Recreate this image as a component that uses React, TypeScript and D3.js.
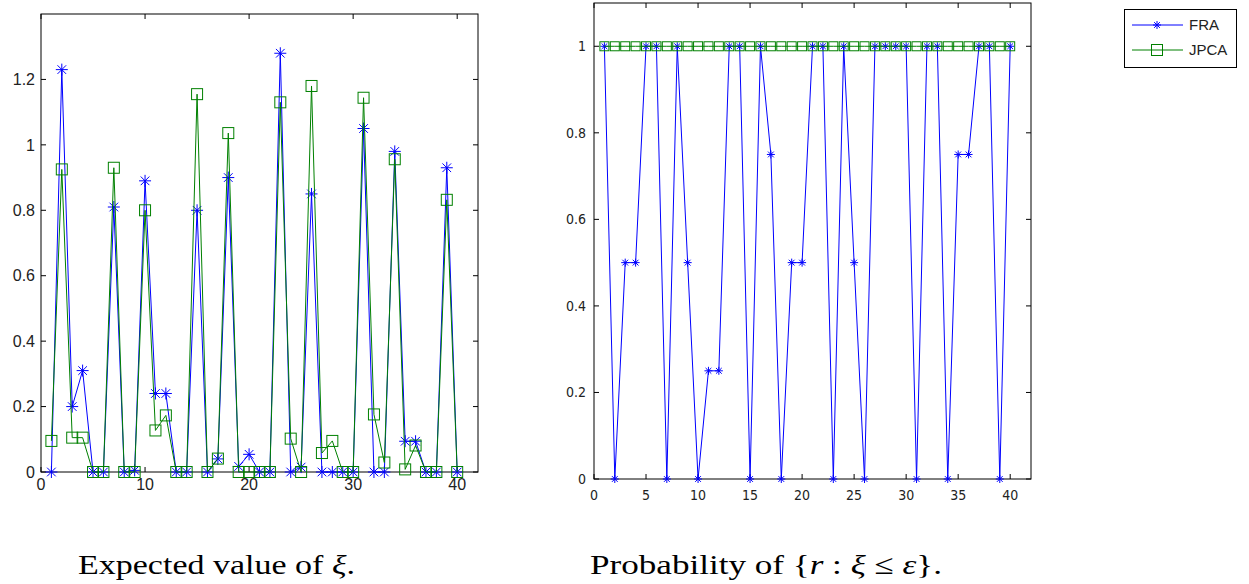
import * as d3 from 'd3';

// run index 1..40
const runs = d3.range(1, 41);

// Expected value of xi (left panel)
const expFRA = [
  0, 1.23, 0.2, 0.31, 0, 0, 0.81, 0, 0.005, 0.89,
  0.24, 0.24, 0, 0, 0.8, 0, 0.04, 0.9, 0.017, 0.054,
  0, 0, 1.28, 0, 0.015, 0.85, 0, 0, 0, 0,
  1.05, 0, 0, 0.98, 0.094, 0.094, 0, 0, 0.93, 0,
];
const expJPCA = [
  0.095, 0.925, 0.105, 0.105, 0, 0, 0.93, 0, 0, 0.8,
  0.127, 0.173, 0, 0, 1.155, 0, 0.041, 1.036, 0, 0,
  0, 0, 1.13, 0.102, 0, 1.18, 0.058, 0.095, 0, 0,
  1.144, 0.176, 0.029, 0.956, 0.008, 0.081, 0, 0, 0.832, 0,
];

// Probability of {r : xi <= eps} (right panel)
const probFRA = [
  1, 0, 0.5, 0.5, 1, 1, 0, 1, 0.5, 0,
  0.25, 0.25, 1, 1, 0, 1, 0.75, 0, 0.5, 0.5,
  1, 1, 0, 1, 0.5, 0, 1, 1, 1, 1,
  0, 1, 1, 0, 0.75, 0.75, 1, 1, 0, 1,
];
const probJPCA = [
  1, 1, 1, 1, 1, 1, 1, 1, 1, 1,
  1, 1, 1, 1, 1, 1, 1, 1, 1, 1,
  1, 1, 1, 1, 1, 1, 1, 1, 1, 1,
  1, 1, 1, 1, 1, 1, 1, 1, 1, 1,
];

const leftYTicks = [0, 0.2, 0.4, 0.6, 0.8, 1, 1.2];
const leftYLabels = ['0', '0.2', '0.4', '0.6', '0.8', '1', '1.2'];
const leftXTicks = [0, 10, 20, 30, 40];
const rightYTicks = [0, 0.2, 0.4, 0.6, 0.8, 1];
const rightYLabels = ['0', '0.2', '0.4', '0.6', '0.8', '1'];
const rightXTicks = [0, 5, 10, 15, 20, 25, 30, 35, 40];
const seriesNames = ['FRA', 'JPCA'];

const BLUE = '#0000ff';
const GREEN = '#008000';

const starPath = (r: number) => {
  const d = r * 0.72;
  return `M${-r},0H${r}M0,${-r}V${r}M${-d},${-d}L${d},${d}M${-d},${d}L${d},${-d}`;
};

type PanelProps = {
  box: { left: number; top: number; right: number; bottom: number };
  xMax: number;
  yMax: number;
  fra: number[];
  jpca: number[];
  xTicks: number[];
  yTicks: number[];
  yLabels: string[];
  starR: number;
  sq: number;
  font: string;
  fontSize: number;
  xLabelY: number;
  yLabelGap: number;
};

function Panel(p: PanelProps) {
  const x = d3.scaleLinear().domain([0, p.xMax]).range([p.box.left, p.box.right]);
  const y = d3.scaleLinear().domain([0, p.yMax]).range([p.box.bottom, p.box.top]);
  const line = d3.line<number>().x((_, i) => x(runs[i])).y((v) => y(v));
  const tl = 5;
  return (
    <g>
      <rect x={p.box.left} y={p.box.top} width={p.box.right - p.box.left}
        height={p.box.bottom - p.box.top} fill="#fff" stroke="#000" strokeWidth={1} />
      {/* ticks */}
      {p.xTicks.map((t) => (
        <g key={'xt' + t}>
          <line x1={x(t)} x2={x(t)} y1={p.box.bottom} y2={p.box.bottom - tl} stroke="#000" />
          <line x1={x(t)} x2={x(t)} y1={p.box.top} y2={p.box.top + tl} stroke="#000" />
          <text x={x(t)} y={p.xLabelY} textAnchor="middle" fontFamily={p.font}
            fontSize={p.fontSize} fill="#222">{t}</text>
        </g>
      ))}
      {p.yTicks.map((t, i) => (
        <g key={'yt' + t}>
          <line x1={p.box.left} x2={p.box.left + tl} y1={y(t)} y2={y(t)} stroke="#000" />
          <line x1={p.box.right} x2={p.box.right - tl} y1={y(t)} y2={y(t)} stroke="#000" />
          <text x={p.box.left - p.yLabelGap} y={y(t)} dy="0.36em" textAnchor="end"
            fontFamily={p.font} fontSize={p.fontSize} fill="#222">{p.yLabels[i]}</text>
        </g>
      ))}
      {/* FRA */}
      <path d={line(p.fra) || ''} fill="none" stroke={BLUE} strokeWidth={1} />
      {p.fra.map((v, i) => (
        <path key={'s' + i} d={starPath(p.starR)} transform={`translate(${x(runs[i])},${y(v)})`}
          stroke={BLUE} strokeWidth={1} fill="none" />
      ))}
      {/* JPCA */}
      <path d={line(p.jpca) || ''} fill="none" stroke={GREEN} strokeWidth={1} />
      {p.jpca.map((v, i) => (
        <rect key={'q' + i} x={x(runs[i]) - p.sq / 2} y={y(v) - p.sq / 2} width={p.sq} height={p.sq}
          stroke={GREEN} strokeWidth={1} fill="none" />
      ))}
    </g>
  );
}

export default function App() {
  const serif = '"Liberation Serif", "DejaVu Serif", serif';
  return (
    <svg width={1249} height={584} style={{ position: 'absolute', left: 0, top: 0, background: '#fff' }}
      fontFamily="Liberation Sans, Arial, sans-serif">
      <rect width={1249} height={584} fill="#fff" />
      <Panel box={{ left: 41, top: 14, right: 478, bottom: 472 }} xMax={42} yMax={1.4}
        fra={expFRA} jpca={expJPCA} xTicks={leftXTicks} yTicks={leftYTicks} yLabels={leftYLabels}
        starR={6} sq={11} font='"Liberation Sans", Arial, sans-serif' fontSize={16}
        xLabelY={490} yLabelGap={6} />
      <Panel box={{ left: 594, top: 3, right: 1031, bottom: 479 }} xMax={42} yMax={1.1}
        fra={probFRA} jpca={probJPCA} xTicks={rightXTicks} yTicks={rightYTicks} yLabels={rightYLabels}
        starR={4} sq={9} font='"Liberation Sans Narrow", "DejaVu Sans Condensed", sans-serif' fontSize={14}
        xLabelY={500} yLabelGap={8} />

      {/* legend */}
      <rect x={1124.5} y={9.5} width={112} height={58} fill="#fff" stroke="#000" strokeWidth={1} />
      {seriesNames.map((name, i) => {
        const ly = 25 + i * 25;
        return (
          <g key={name}>
            <line x1={1132} x2={1183} y1={ly} y2={ly} stroke={i === 0 ? BLUE : GREEN} />
            {i === 0 ? (
              <path d={starPath(4)} transform={`translate(1157,${ly})`} stroke={BLUE} fill="none" />
            ) : (
              <rect x={1151.5} y={ly - 5.5} width={11} height={11} stroke={GREEN} fill="none" />
            )}
            <text x={1189} y={ly} dy="0.36em" fontSize={15} fill="#222"
              fontFamily='"Liberation Sans", Arial, sans-serif'>{name}</text>
          </g>
        );
      })}

      {/* captions */}
      <text x={78} y={574} fontFamily={serif} fontSize={28} fill="#000" textLength={277}
        lengthAdjust="spacingAndGlyphs">
        Expected value of <tspan fontStyle="italic">ξ</tspan>.
      </text>
      <text x={590} y={574} fontFamily={serif} fontSize={28} fill="#000" textLength={352}
        lengthAdjust="spacingAndGlyphs">
        Probability of {'{'}<tspan fontStyle="italic">r</tspan> : <tspan fontStyle="italic">ξ</tspan> ≤ <tspan fontStyle="italic">ε</tspan>{'}'}.
      </text>
    </svg>
  );
}
